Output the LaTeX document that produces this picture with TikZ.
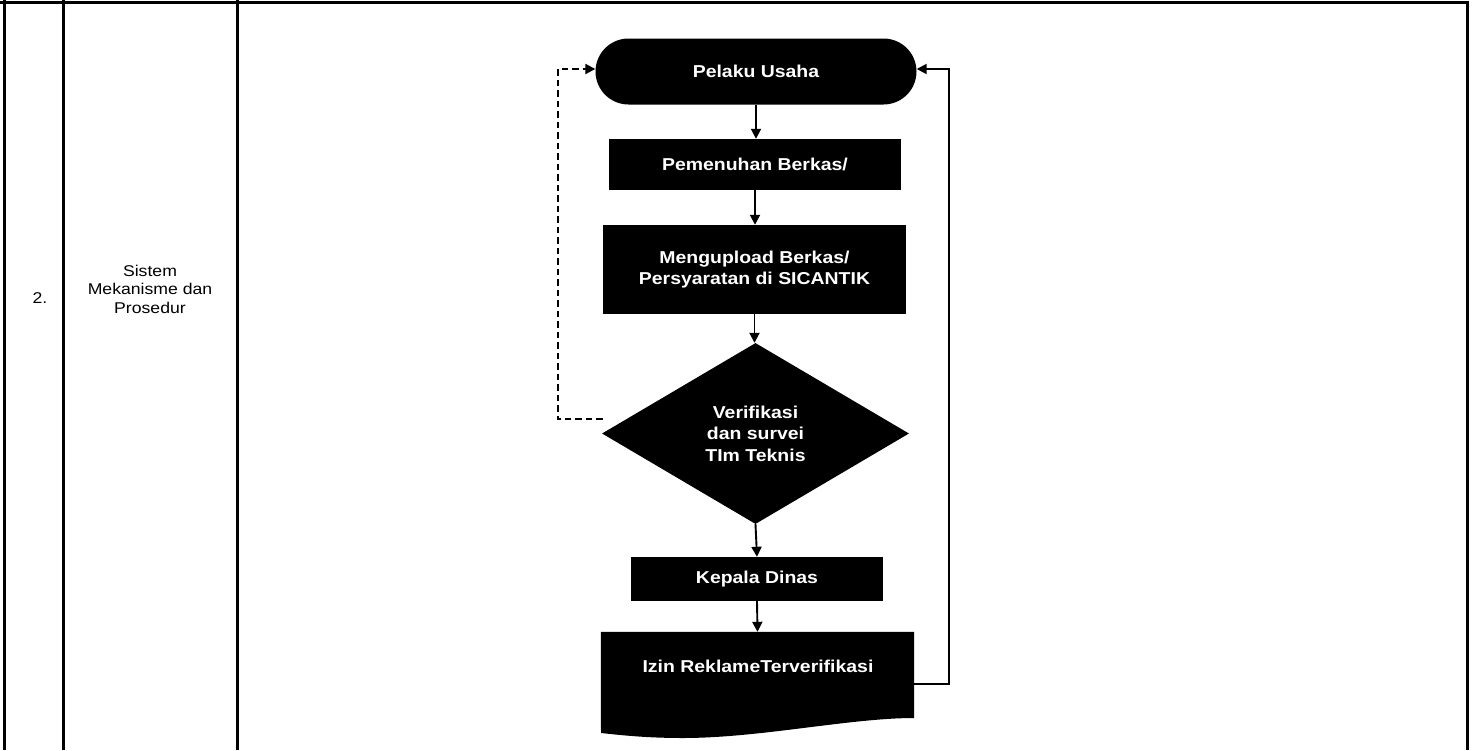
\documentclass[tikz,border=0pt]{standalone}
\usepackage{fontspec}
\setmainfont{Liberation Sans}[FakeStretch=1.13]
\usetikzlibrary{arrows.meta,shapes.geometric,calc}

\begin{document}
\begin{tikzpicture}[x=1pt,y=-1pt,
  tbl/.style={line width=3pt},
  blk/.style={fill=black, text=white, align=center, inner sep=0pt,
              font=\fontsize{17.2}{21.5}\selectfont\bfseries},
  plain/.style={align=center, inner sep=0pt, font=\fontsize{15.6}{18.5}\selectfont},
  conn/.style={line width=1.9pt, -{Triangle[length=10pt,width=10pt]}},
  dconn/.style={conn, dash pattern=on 6.5pt off 4pt}]

\useasboundingbox (0,0) rectangle (1473,750);

% table grid
\draw[tbl] (0,2.5) -- (1468.5,2.5);
\draw[tbl] (4.5,0) -- (4.5,750);
\draw[tbl] (63,0) -- (63,750);
\draw[tbl] (237.5,0) -- (237.5,750);
\draw[tbl] (1467,1) -- (1467,750);

% row labels
\node[plain] (num) at (40,298) {2.};
\node[plain] (lbl) at (150,289) {Sistem\\Mekanisme dan\\Prosedur};

% flow steps
\node[blk, rounded corners=33pt, minimum width=321pt, minimum height=66pt] (term) at (756,71.5) {Pelaku Usaha};
\node[blk, minimum width=292pt, minimum height=51pt] (pb) at (755,164.5) {Pemenuhan Berkas/};
\node[blk, minimum width=303pt, minimum height=89pt] (up) at (754.5,269.5) {Mengupload Berkas/\\Persyaratan di SICANTIK};
\node[blk, diamond, minimum width=307pt, minimum height=181pt] (dia) at (755.5,433.5) {Verifikasi\\dan survei\\TIm Teknis};
\node[blk, minimum width=252pt, minimum height=44pt] (kd) at (757,579) {Kepala Dinas};

% document shape with wavy bottom
\node[minimum width=313pt, minimum height=104pt, inner sep=0pt] (doc) at (757.5,684) {};
\fill (doc.north west) -- (doc.north east) -- (914,718)
  .. controls (850,718) and (760,738) .. (683,738)
  .. controls (645,738) and (620,735) .. (601,733) -- cycle;
\node[text=white, inner sep=0pt, font=\fontsize{17.2}{21.5}\selectfont\bfseries] (doct) at (758,666) {Izin ReklameTerverifikasi};

% connectors
\draw[conn] (term.south) -- (term.south |- pb.north);
\draw[conn] (pb.south) -- (pb.south |- up.north);
\draw[conn] (up.south) -- (up.south |- dia.north);
\draw[conn] (dia.south) -- (kd.north);
\draw[conn] (kd.south) -- (doc.north);

\coordinate (dl) at ($(dia.west)+(1,-14.5)$);
\draw[dconn] (dl) -- ++(-45,0) |- ($(term.west)+(0,-2.5)$);
\draw[conn] (doc.east) -- ++(35,0) |- ($(term.east)+(0,-2.5)$);
\end{tikzpicture}
\end{document}
